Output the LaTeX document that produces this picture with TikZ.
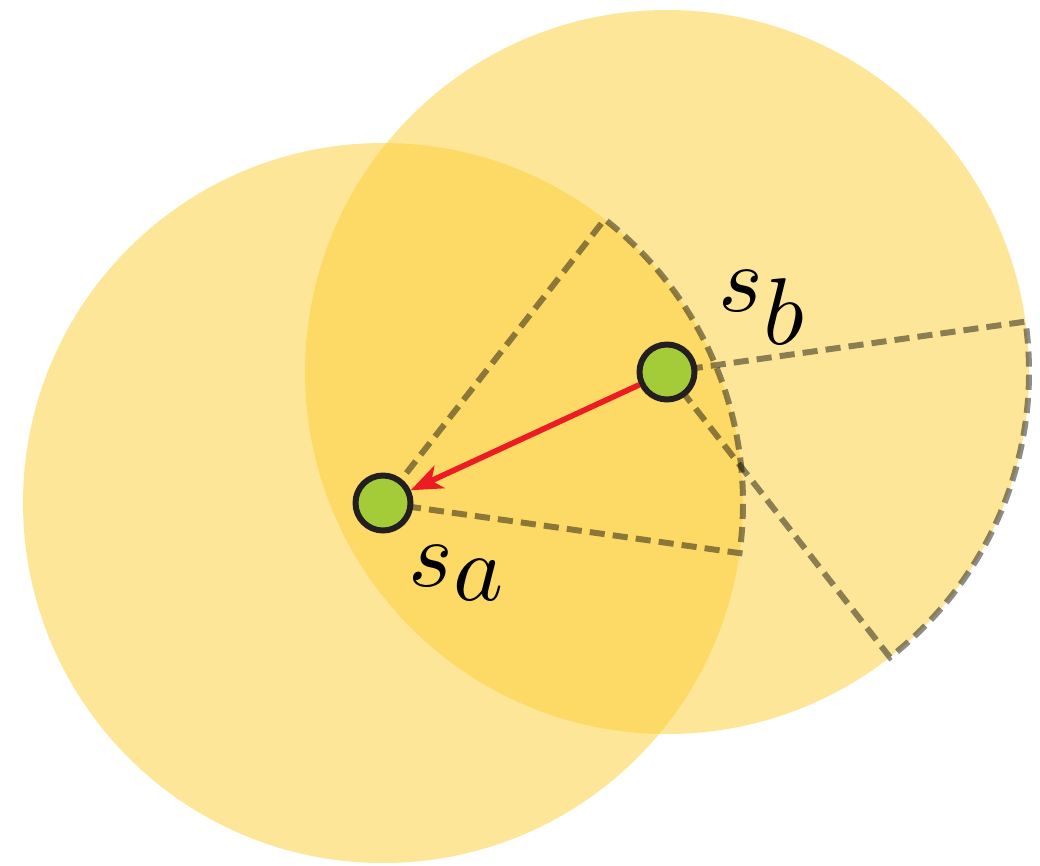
\documentclass[tikz,border=0pt]{standalone}
\usepackage{amsmath}
\usetikzlibrary{arrows.meta}

\definecolor{zone}{RGB}{252,205,50}
\definecolor{leaf}{RGB}{164,204,57}
\definecolor{arrowred}{RGB}{237,28,36}
\definecolor{rim}{RGB}{35,31,32}

\tikzset{
  sensezone/.style={fill=zone, fill opacity=0.5, draw=none},
  sector/.style={draw=black, draw opacity=0.45, line width=1.7pt, dash pattern=on 4.3pt off 2.3pt},
  sensor/.style={circle, fill=leaf, draw=rim, line width=1.7pt, minimum size=0.55cm, inner sep=0pt},
  tag/.style={anchor=base west, inner sep=0pt, scale=2.7, transform shape}
}

\begin{document}
\begin{tikzpicture}[>=Stealth]
    \useasboundingbox (0,0) rectangle (10.4,8.65);

    % Sensor positions
    \coordinate (ca) at (3.83,3.62);
    \coordinate (cb) at (6.67,4.93);

    % Sensing ranges
    \fill[sensezone] (ca) circle (3.6);
    \fill[sensezone] (cb) circle (3.62);

    % Field of view of each sensor
    \draw[sector] (ca) -- ++(-8:3.6) arc[start angle=-8, end angle=52, radius=3.6] -- cycle;
    \draw[sector] (cb) -- ++(-52:3.62) arc[start angle=-52, end angle=8, radius=3.62] -- cycle;

    % Sensors
    \node[sensor] (sa) at (ca) {};
    \node[sensor] (sb) at (cb) {};
    \node[tag] (la) at (4.07,2.79) {$s_{\displaystyle a}$};
    \node[tag] (lb) at (7.17,5.54) {$s_{\displaystyle b}$};

    % Direction from b to a
    \draw[-{Stealth[length=9pt, width=7pt, inset=2.5pt]}, line width=1.6pt, arrowred] (sb) -- (sa);
\end{tikzpicture}
\end{document}
